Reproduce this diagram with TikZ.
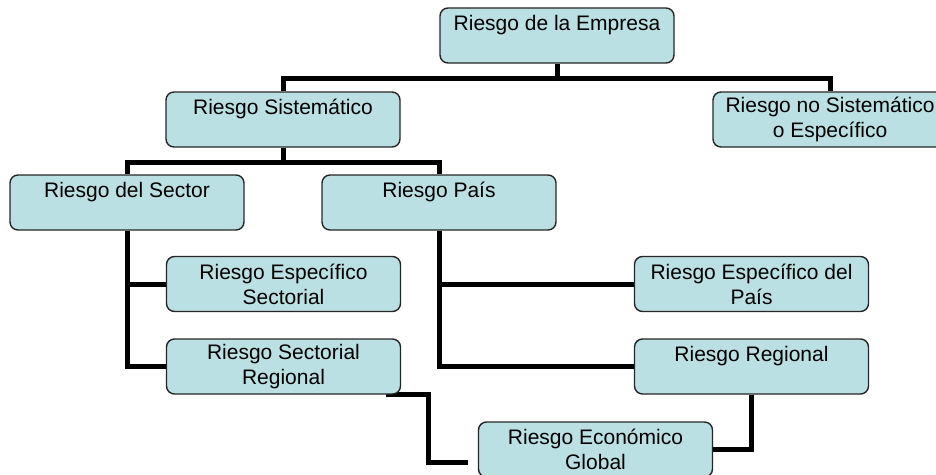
\documentclass[tikz,border=0pt]{standalone}
\usepackage{fontspec}
\setmainfont{Liberation Sans}
\usetikzlibrary{calc,backgrounds}
\definecolor{boxfill}{RGB}{187,224,227}
\tikzset{
  rbox/.style={draw=black!85, line width=1.4pt, fill=boxfill, rounded corners=8pt,
    minimum width=234pt, minimum height=55pt, inner sep=0pt, align=center,
    font=\fontsize{21}{25}\selectfont},
  conn/.style={line width=5pt, draw=black, line join=miter}
}
\begin{document}
\begin{tikzpicture}[x=1pt,y=-1pt]
\useasboundingbox (0,0) rectangle (936,474);
\clip (0,0) rectangle (936,474);
\node[rbox] (emp) at (557,35.5) {Riesgo de la Empresa\\\mbox{}};
\node[rbox] (sis) at (283,119.5) {Riesgo Sistemático\\\mbox{}};
\node[rbox] (nosis) at (830,119.5) {Riesgo no Sistemático\\o Específico};
\node[rbox] (sec) at (127,202.5) {Riesgo del Sector\\\mbox{}};
\node[rbox] (pais) at (439,202.5) {Riesgo País\\\mbox{}};
\node[rbox] (espsec) at (283.5,284) {Riesgo Específico\\Sectorial};
\node[rbox] (secreg) at (283.5,366.5) {Riesgo Sectorial\\Regional};
\node[rbox] (esppais) at (751.5,284) {Riesgo Específico del\\País};
\node[rbox] (reg) at (751.5,366.5) {Riesgo Regional\\\mbox{}};
\node[rbox] (glob) at (595.5,449.5) {Riesgo Económico\\Global};
\begin{pgfonlayer}{background}
\coordinate (j1) at ($(emp.south)+(0,15)$);
\draw[conn] (sis.north) |- (j1) -| (nosis.north);
\draw[conn] (emp.south) -- (j1);
\coordinate (j2) at ($(sis.south)+(0,15)$);
\draw[conn] (sec.north) |- (j2) -| (pais.north);
\draw[conn] (sis.south) -- (j2);
\draw[conn] (sec.south) |- (espsec.west);
\draw[conn] (sec.south) |- (secreg.west);
\draw[conn] (pais.south) |- (esppais.west);
\draw[conn] (pais.south) |- (reg.west);
\coordinate (g1) at ([shift={(-10,12.5)}]glob.west);
\draw[conn] ([xshift=-15pt]secreg.south east) -- ++(42,0) |- (g1);
\draw[conn] (reg.south) |- (glob.east);
\end{pgfonlayer}
\end{tikzpicture}
\end{document}
